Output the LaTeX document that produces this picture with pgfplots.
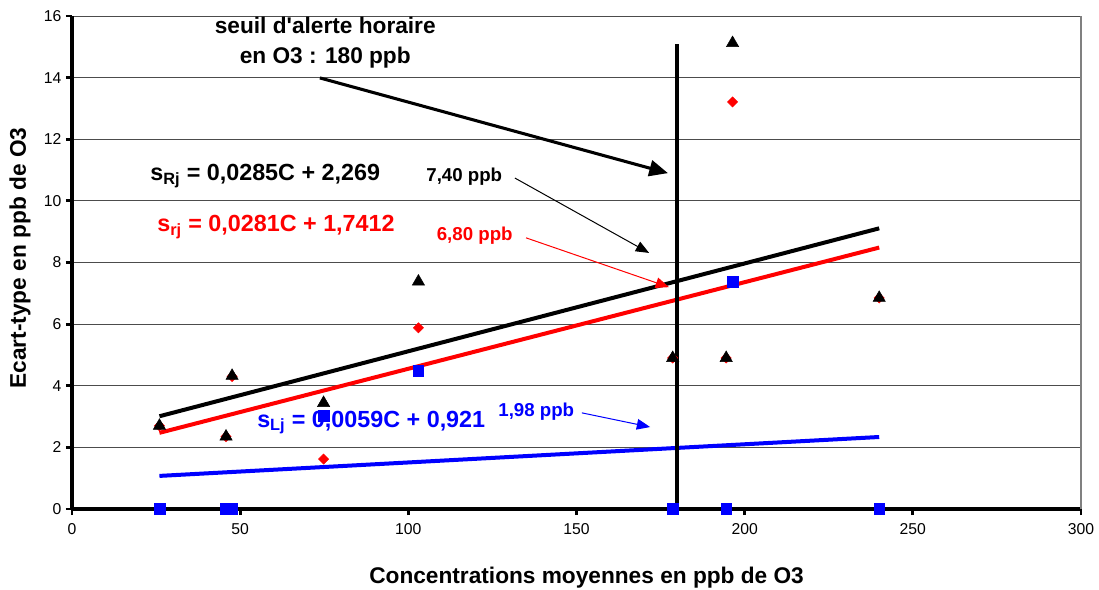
\documentclass[border=0pt]{standalone}
\usepackage{fontspec}
\setmainfont{Liberation Sans}
\usepackage{pgfplots}
\pgfplotsset{compat=1.18}
\usetikzlibrary{arrows.meta}

\definecolor{gridgray}{gray}{0.3}

\begin{document}
\begin{tikzpicture}
\begin{axis}[
  scale only axis, width=756.75pt, height=369.75pt,
  xmin=0, xmax=300, ymin=0, ymax=16,
  xtick={0,50,...,300}, ytick={0,2,...,16},
  axis x line=bottom, axis y line=left,
  x axis line style={-, line width=2.4pt},
  y axis line style={-, line width=3pt},
  tick align=outside,
  major tick length=4.5pt,
  every tick/.style={black, line width=2.2pt},
  ymajorgrids, major grid style={gridgray, line width=0.7pt},
  tick label style={font=\fontsize{11.8}{13}\selectfont},
  /pgf/number format/assume math mode=true,
  xticklabel style={yshift=-3pt},
  clip=false,
  xlabel={Concentrations moyennes en ppb de O3},
  ylabel={Ecart-type en ppb de O3},
  every axis x label/.style={at={(axis description cs:0.51,-0.14)}, anchor=center,
    font=\bfseries\fontsize{17}{20}\selectfont},
  every axis y label/.style={at={(axis description cs:-0.0515,0.509)}, anchor=center,
    rotate=90, font=\bfseries\fontsize{17}{20}\selectfont},
]
\coordinate (ll) at (rel axis cs:0,0);
\coordinate (ur) at (rel axis cs:1,1);
\draw[gray, line width=1pt] (rel axis cs:1,0) -- (rel axis cs:1,1);

% regression lines
\addplot[black, line width=3pt] coordinates {(26,3.010) (240,9.109)};
\addplot[red, line width=3pt] coordinates {(26,2.472) (240,8.485)};
\addplot[blue, line width=3pt] coordinates {(26,1.074) (240,2.337)};

% measured standard deviations
\addplot[only marks, mark=square*, mark size=4pt, blue] coordinates {
  (26,0) (45.8,0) (47.6,0) (74.8,3.02) (103,4.48) (178.6,0) (194.5,0) (196.4,7.37) (240,0)};
\addplot[only marks, mark=square*, mark size=2.7pt, mark options={rotate=45}, red] coordinates {
  (26,2.7) (45.8,2.35) (47.6,4.3) (74.8,1.62) (103,5.88) (178.6,4.9) (194.5,4.9) (196.4,13.21) (240,6.85)};
\addplot[only marks, mark=triangle*, mark size=5.3pt, black] coordinates {
  (26,2.7) (45.8,2.35) (47.6,4.32) (74.8,3.44) (103,7.38) (178.6,4.9) (194.5,4.9) (196.4,15.12) (240,6.85)};

% alert threshold
\addplot[black, line width=3pt] coordinates {(180,0) (180,15.1)};

\node[align=center, font=\bfseries\fontsize{17}{22.5}\selectfont] at (axis cs:75.3,15.12)
  {seuil d\textquotesingle alerte horaire\\en O3 : 180 ppb};
\draw[line width=2.3pt, -{Triangle[length=14pt,width=12pt]}] (axis cs:73.7,13.99) -- (axis cs:177.2,10.9);

\node[anchor=base west, inner sep=0pt, font=\bfseries\fontsize{17.5}{20}\selectfont] at (axis cs:23.2,10.65)
  {s\textsubscript{Rj} = 0,0285C + 2,269};
\node[anchor=base west, inner sep=0pt, red, font=\bfseries\fontsize{17.5}{20}\selectfont] at (axis cs:25.3,8.99)
  {s\textsubscript{rj} = 0,0281C + 1,7412};
\node[anchor=base west, inner sep=0pt, blue, font=\bfseries\fontsize{17.5}{20}\selectfont] at (axis cs:55.0,2.66)
  {s\textsubscript{Lj} = 0,0059C + 0,921};

\node[anchor=base west, inner sep=0pt, font=\bfseries\fontsize{14}{16}\selectfont] at (axis cs:105.3,10.62) {7,40 ppb};
\node[anchor=base west, inner sep=0pt, red, font=\bfseries\fontsize{14}{16}\selectfont] at (axis cs:108.4,8.71) {6,80 ppb};
\node[anchor=base west, inner sep=0pt, blue, font=\bfseries\fontsize{14}{16}\selectfont] at (axis cs:126.7,2.99) {1,98 ppb};

\draw[black, line width=0.75pt, -{Triangle[length=10pt,width=8pt]}] (axis cs:131.7,10.74) -- (axis cs:171.6,8.31);
\draw[red, line width=0.75pt, -{Triangle[length=10pt,width=8pt]}] (axis cs:135,8.8) -- (axis cs:177.5,7.2);
\draw[blue, line width=0.75pt, -{Triangle[length=10pt,width=8pt]}] (axis cs:151.6,3.12) -- (axis cs:171.9,2.66);
\end{axis}
\pgfresetboundingbox
\path[use as bounding box] ([shift={(-54pt,-60pt)}]ll) rectangle ([shift={(13.5pt,12pt)}]ur);
\end{tikzpicture}
\end{document}
